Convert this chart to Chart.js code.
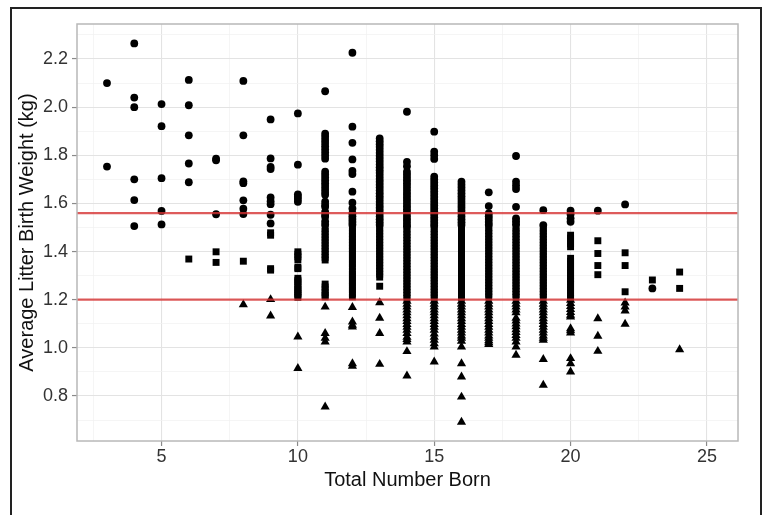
<!DOCTYPE html>
<html><head><meta charset="utf-8">
<script src="https://cdn.jsdelivr.net/npm/chart.js@4.4.1/dist/chart.umd.min.js"></script>
<style>
html,body{margin:0;padding:0;background:#fff;overflow:hidden;width:763px;height:515px;}
#wrap{position:relative;width:763px;height:515px;}
#frame{position:absolute;left:10px;top:7px;width:752px;height:530px;border:2px solid #222;box-sizing:border-box;pointer-events:none;}
canvas{position:absolute;left:0;top:0;}
</style></head><body>
<div id="wrap"><canvas id="c" width="763" height="515"></canvas><div id="frame"></div></div>
<script>
// Total number born (x categories)
const columns = [3,4,5,6,7,8,9,10,11,12,13,14,15,16,17,18,19,20,21,22,23,24];

// Average litter birth weight (kg) per column, circle markers
const circleValues = [
  [2.10, 1.753],
  [2.265, 2.04, 2.0, 1.70, 1.614, 1.506],
  [2.013, 1.921, 1.705, 1.569, 1.513],
  [2.113, 2.008, 1.883, 1.766, 1.688],
  [1.786, 1.779, 1.555],
  [2.109, 1.883, 1.692, 1.684, 1.613, 1.578, 1.556],
  [1.949, 1.787, 1.752, 1.743, 1.625, 1.609, 1.597, 1.553, 1.517],
  [1.974, 1.761, 1.638, 1.628, 1.618, 1.607],
  [2.066, 1.89, 1.877, 1.864, 1.851, 1.838, 1.825, 1.812, 1.799, 1.786, 1.732, 1.72, 1.708, 1.696, 1.684, 1.672, 1.66, 1.648, 1.636, 1.607, 1.594, 1.586, 1.565, 1.553, 1.545, 1.525, 1.512],
  [2.226, 1.919, 1.852, 1.783, 1.735, 1.722, 1.649, 1.603, 1.579, 1.559, 1.547, 1.535, 1.523, 1.511],
  [1.87, 1.858, 1.846, 1.834, 1.822, 1.81, 1.798, 1.786, 1.774, 1.762, 1.75, 1.738, 1.726, 1.714, 1.702, 1.69, 1.678, 1.666, 1.654, 1.642, 1.63, 1.618, 1.606, 1.594, 1.582, 1.57, 1.558, 1.546, 1.534, 1.522, 1.51],
  [1.981, 1.773, 1.755, 1.732, 1.72, 1.708, 1.696, 1.684, 1.672, 1.66, 1.648, 1.636, 1.624, 1.612, 1.6, 1.588, 1.576, 1.564, 1.552, 1.54, 1.528, 1.516, 1.505],
  [1.898, 1.815, 1.80, 1.785, 1.711, 1.699, 1.687, 1.675, 1.663, 1.651, 1.639, 1.627, 1.615, 1.603, 1.591, 1.579, 1.567, 1.555, 1.543, 1.531, 1.519, 1.507],
  [1.69, 1.678, 1.666, 1.654, 1.642, 1.63, 1.618, 1.606, 1.594, 1.582, 1.57, 1.558, 1.546, 1.534, 1.522, 1.51],
  [1.646, 1.589, 1.559, 1.547, 1.535, 1.523, 1.511],
  [1.797, 1.69, 1.675, 1.66, 1.586, 1.538, 1.526, 1.514],
  [1.572, 1.51],
  [1.57, 1.555, 1.538, 1.524],
  [1.57],
  [1.596],
  [1.247],
  []
];

// square markers
const squareValues = [
  [], [], [],
  [1.369],
  [1.399, 1.355],
  [1.36],
  [1.478, 1.468, 1.329, 1.323],
  [1.399, 1.389, 1.378, 1.365, 1.334, 1.329, 1.289, 1.281, 1.274, 1.261, 1.252, 1.243, 1.233, 1.226, 1.219, 1.21],
  [1.496, 1.484, 1.472, 1.46, 1.448, 1.436, 1.424, 1.412, 1.40, 1.388, 1.376, 1.365, 1.265, 1.253, 1.241, 1.229, 1.218, 1.212],
  [1.498, 1.486, 1.474, 1.462, 1.45, 1.438, 1.426, 1.414, 1.402, 1.39, 1.378, 1.365, 1.35, 1.337, 1.32, 1.307, 1.295, 1.28, 1.268, 1.254, 1.24, 1.226, 1.212],
  [1.498, 1.486, 1.474, 1.462, 1.45, 1.438, 1.426, 1.414, 1.402, 1.39, 1.378, 1.366, 1.354, 1.342, 1.33, 1.318, 1.306, 1.294, 1.256],
  [1.494, 1.482, 1.47, 1.458, 1.446, 1.434, 1.422, 1.41, 1.398, 1.386, 1.374, 1.362, 1.35, 1.338, 1.326, 1.314, 1.302, 1.29, 1.278, 1.266, 1.254, 1.242, 1.23, 1.218, 1.206],
  [1.495, 1.483, 1.471, 1.459, 1.447, 1.435, 1.423, 1.411, 1.399, 1.387, 1.375, 1.363, 1.351, 1.339, 1.327, 1.315, 1.303, 1.291, 1.279, 1.267, 1.255, 1.243, 1.231, 1.219, 1.207],
  [1.497, 1.485, 1.473, 1.461, 1.449, 1.437, 1.425, 1.413, 1.401, 1.389, 1.377, 1.365, 1.353, 1.341, 1.329, 1.317, 1.305, 1.293, 1.281, 1.269, 1.257, 1.245, 1.233, 1.221, 1.209],
  [1.499, 1.487, 1.475, 1.463, 1.451, 1.439, 1.427, 1.415, 1.403, 1.391, 1.379, 1.367, 1.355, 1.343, 1.331, 1.319, 1.307, 1.295, 1.283, 1.271, 1.259, 1.247, 1.235, 1.223, 1.211],
  [1.498, 1.486, 1.474, 1.462, 1.45, 1.438, 1.426, 1.414, 1.402, 1.39, 1.378, 1.366, 1.354, 1.342, 1.33, 1.318, 1.306, 1.294, 1.282, 1.27, 1.258, 1.246, 1.234, 1.222, 1.21],
  [1.498, 1.486, 1.474, 1.462, 1.45, 1.438, 1.426, 1.414, 1.402, 1.39, 1.378, 1.366, 1.354, 1.342, 1.33, 1.318, 1.306, 1.294, 1.282, 1.27, 1.258, 1.246, 1.234, 1.222, 1.21],
  [1.468, 1.456, 1.444, 1.432, 1.42, 1.372, 1.36, 1.348, 1.336, 1.324, 1.312, 1.3, 1.288, 1.276, 1.264, 1.252, 1.24, 1.228, 1.216, 1.206],
  [1.445, 1.392, 1.342, 1.304],
  [1.395, 1.342, 1.233],
  [1.282],
  [1.315, 1.247]
];

// triangle markers
const triangleValues = [
  [], [], [], [], [],
  [1.18],
  [1.201, 1.133],
  [1.046, 0.915],
  [1.17, 1.06, 1.04, 1.025, 0.755],
  [1.168, 1.108, 1.095, 1.087, 0.935, 0.924],
  [1.188, 1.124, 1.06, 0.932],
  [1.194, 1.182, 1.17, 1.158, 1.146, 1.134, 1.122, 1.11, 1.098, 1.086, 1.074, 1.06, 1.045, 1.035, 1.025, 0.985, 0.884],
  [1.194, 1.182, 1.17, 1.158, 1.146, 1.134, 1.122, 1.11, 1.098, 1.086, 1.074, 1.058, 1.045, 1.032, 1.018, 1.004, 0.942],
  [1.194, 1.182, 1.17, 1.158, 1.146, 1.134, 1.122, 1.11, 1.098, 1.086, 1.074, 1.062, 1.05, 1.04, 1.028, 1.004, 0.935, 0.88, 0.796, 0.692],
  [1.194, 1.182, 1.17, 1.158, 1.146, 1.134, 1.122, 1.11, 1.098, 1.086, 1.074, 1.062, 1.05, 1.04, 1.03, 1.022, 1.015],
  [1.194, 1.182, 1.17, 1.158, 1.146, 1.124, 1.112, 1.1, 1.088, 1.076, 1.064, 1.052, 1.04, 1.025, 1.004, 0.97],
  [1.194, 1.182, 1.17, 1.158, 1.146, 1.134, 1.122, 1.11, 1.098, 1.086, 1.074, 1.062, 1.05, 1.04, 1.032, 0.952, 0.845],
  [1.198, 1.185, 1.172, 1.16, 1.148, 1.136, 1.129, 1.08, 1.072, 1.062, 0.956, 0.935, 0.90],
  [1.122, 1.049, 0.986],
  [1.187, 1.17, 1.154, 1.099],
  [],
  [0.993]
];

// reference lines (kg)
const refLines = [1.56, 1.2];

// axes
const xMin = 1.9, xMax = 26.14;
const yMin = 0.613, yMax = 2.3455;
const xMajorTicks = [5, 10, 15, 20, 25];
const xTickLabels = ['5', '10', '15', '20', '25'];
const xMinorTicks = [2.5, 7.5, 12.5, 17.5, 22.5];
const yMajorTicks = [0.8, 1.0, 1.2, 1.4, 1.6, 1.8, 2.0, 2.2];
const yTickLabels = ['0.8', '1.0', '1.2', '1.4', '1.6', '1.8', '2.0', '2.2'];
const yMinorTicks = [0.7, 0.9, 1.1, 1.3, 1.5, 1.7, 1.9, 2.1, 2.3];

const FONT = "'Liberation Sans', Arial, Helvetica, sans-serif";

function toPoints(values) {
  return columns.flatMap((x, i) => values[i].map(y => ({x: x, y: y})));
}
function idxOf(list, v) {
  for (let i = 0; i < list.length; i++) if (Math.abs(list[i] - v) < 1e-6) return i;
  return -1;
}
function gridOpts(major) {
  return {
    color: c => idxOf(major, c.tick.value) >= 0 ? '#e3e3e3' : '#f0f0f0',
    lineWidth: c => idxOf(major, c.tick.value) >= 0 ? 1.1 : 0.7,
    tickColor: c => idxOf(major, c.tick.value) >= 0 ? '#8a8a8a' : 'rgba(0,0,0,0)',
    tickWidth: 1.2,
    tickLength: 5,
    drawTicks: true
  };
}

const pointSets = [
  {data: toPoints(circleValues), pointStyle: 'circle', pointRadius: 3.9},
  {data: toPoints(squareValues), pointStyle: 'rect', pointRadius: 4.9},
  {data: toPoints(triangleValues), pointStyle: 'triangle', pointRadius: 5.3}
].map(d => Object.assign({
  type: 'scatter', backgroundColor: '#000', borderColor: '#000', borderWidth: 0,
  showLine: false, order: 2
}, d));

const lineSets = refLines.map(v => ({
  type: 'line', data: [{x: xMin, y: v}, {x: xMax, y: v}],
  borderColor: 'rgba(214, 50, 50, 0.8)', borderWidth: 2.2, pointRadius: 0,
  fill: false, order: 1
}));

const panelBorder = {
  id: 'panelBorder',
  afterDatasetsDraw(chart) {
    const {ctx, chartArea: a} = chart;
    ctx.save();
    ctx.strokeStyle = '#b8b8b8';
    ctx.lineWidth = 1.5;
    ctx.strokeRect(a.left, a.top, a.right - a.left, a.bottom - a.top);
    ctx.restore();
  }
};

new Chart(document.getElementById('c'), {
  type: 'scatter',
  data: {datasets: [...pointSets, ...lineSets]},
  plugins: [panelBorder],
  options: {
    responsive: false,
    devicePixelRatio: 1,
    animation: false,
    events: [],
    layout: {padding: {left: 0, top: 24, right: 25, bottom: 0}},
    plugins: {legend: {display: false}, tooltip: {enabled: false}},
    scales: {
      x: {
        type: 'linear', min: xMin, max: xMax,
        afterBuildTicks: s => { s.ticks = [...xMinorTicks, ...xMajorTicks].sort((a, b) => a - b).map(v => ({value: v})); },
        afterFit: s => { s.height = 74; },
        ticks: {
          autoSkip: false, maxRotation: 0, padding: 0, color: '#333',
          font: {family: FONT, size: 18},
          callback: v => { const i = idxOf(xMajorTicks, v); return i >= 0 ? xTickLabels[i] : ''; }
        },
        grid: gridOpts(xMajorTicks),
        border: {display: false},
        title: {display: true, text: 'Total Number Born', color: '#111', font: {family: FONT, size: 20}, padding: {top: 0, bottom: 23}}
      },
      y: {
        type: 'linear', min: yMin, max: yMax,
        afterBuildTicks: s => { s.ticks = [...yMinorTicks, ...yMajorTicks].sort((a, b) => a - b).map(v => ({value: v})); },
        afterFit: s => { s.width = 77; },
        ticks: {
          autoSkip: false, padding: 4, color: '#333',
          font: {family: FONT, size: 18},
          callback: v => { const i = idxOf(yMajorTicks, v); return i >= 0 ? yTickLabels[i] : ''; }
        },
        grid: gridOpts(yMajorTicks),
        border: {display: false},
        title: {display: true, text: 'Average Litter Birth Weight (kg)', color: '#111', font: {family: FONT, size: 20}, padding: {top: 15, bottom: 0}}
      }
    }
  }
});
</script></body></html>
